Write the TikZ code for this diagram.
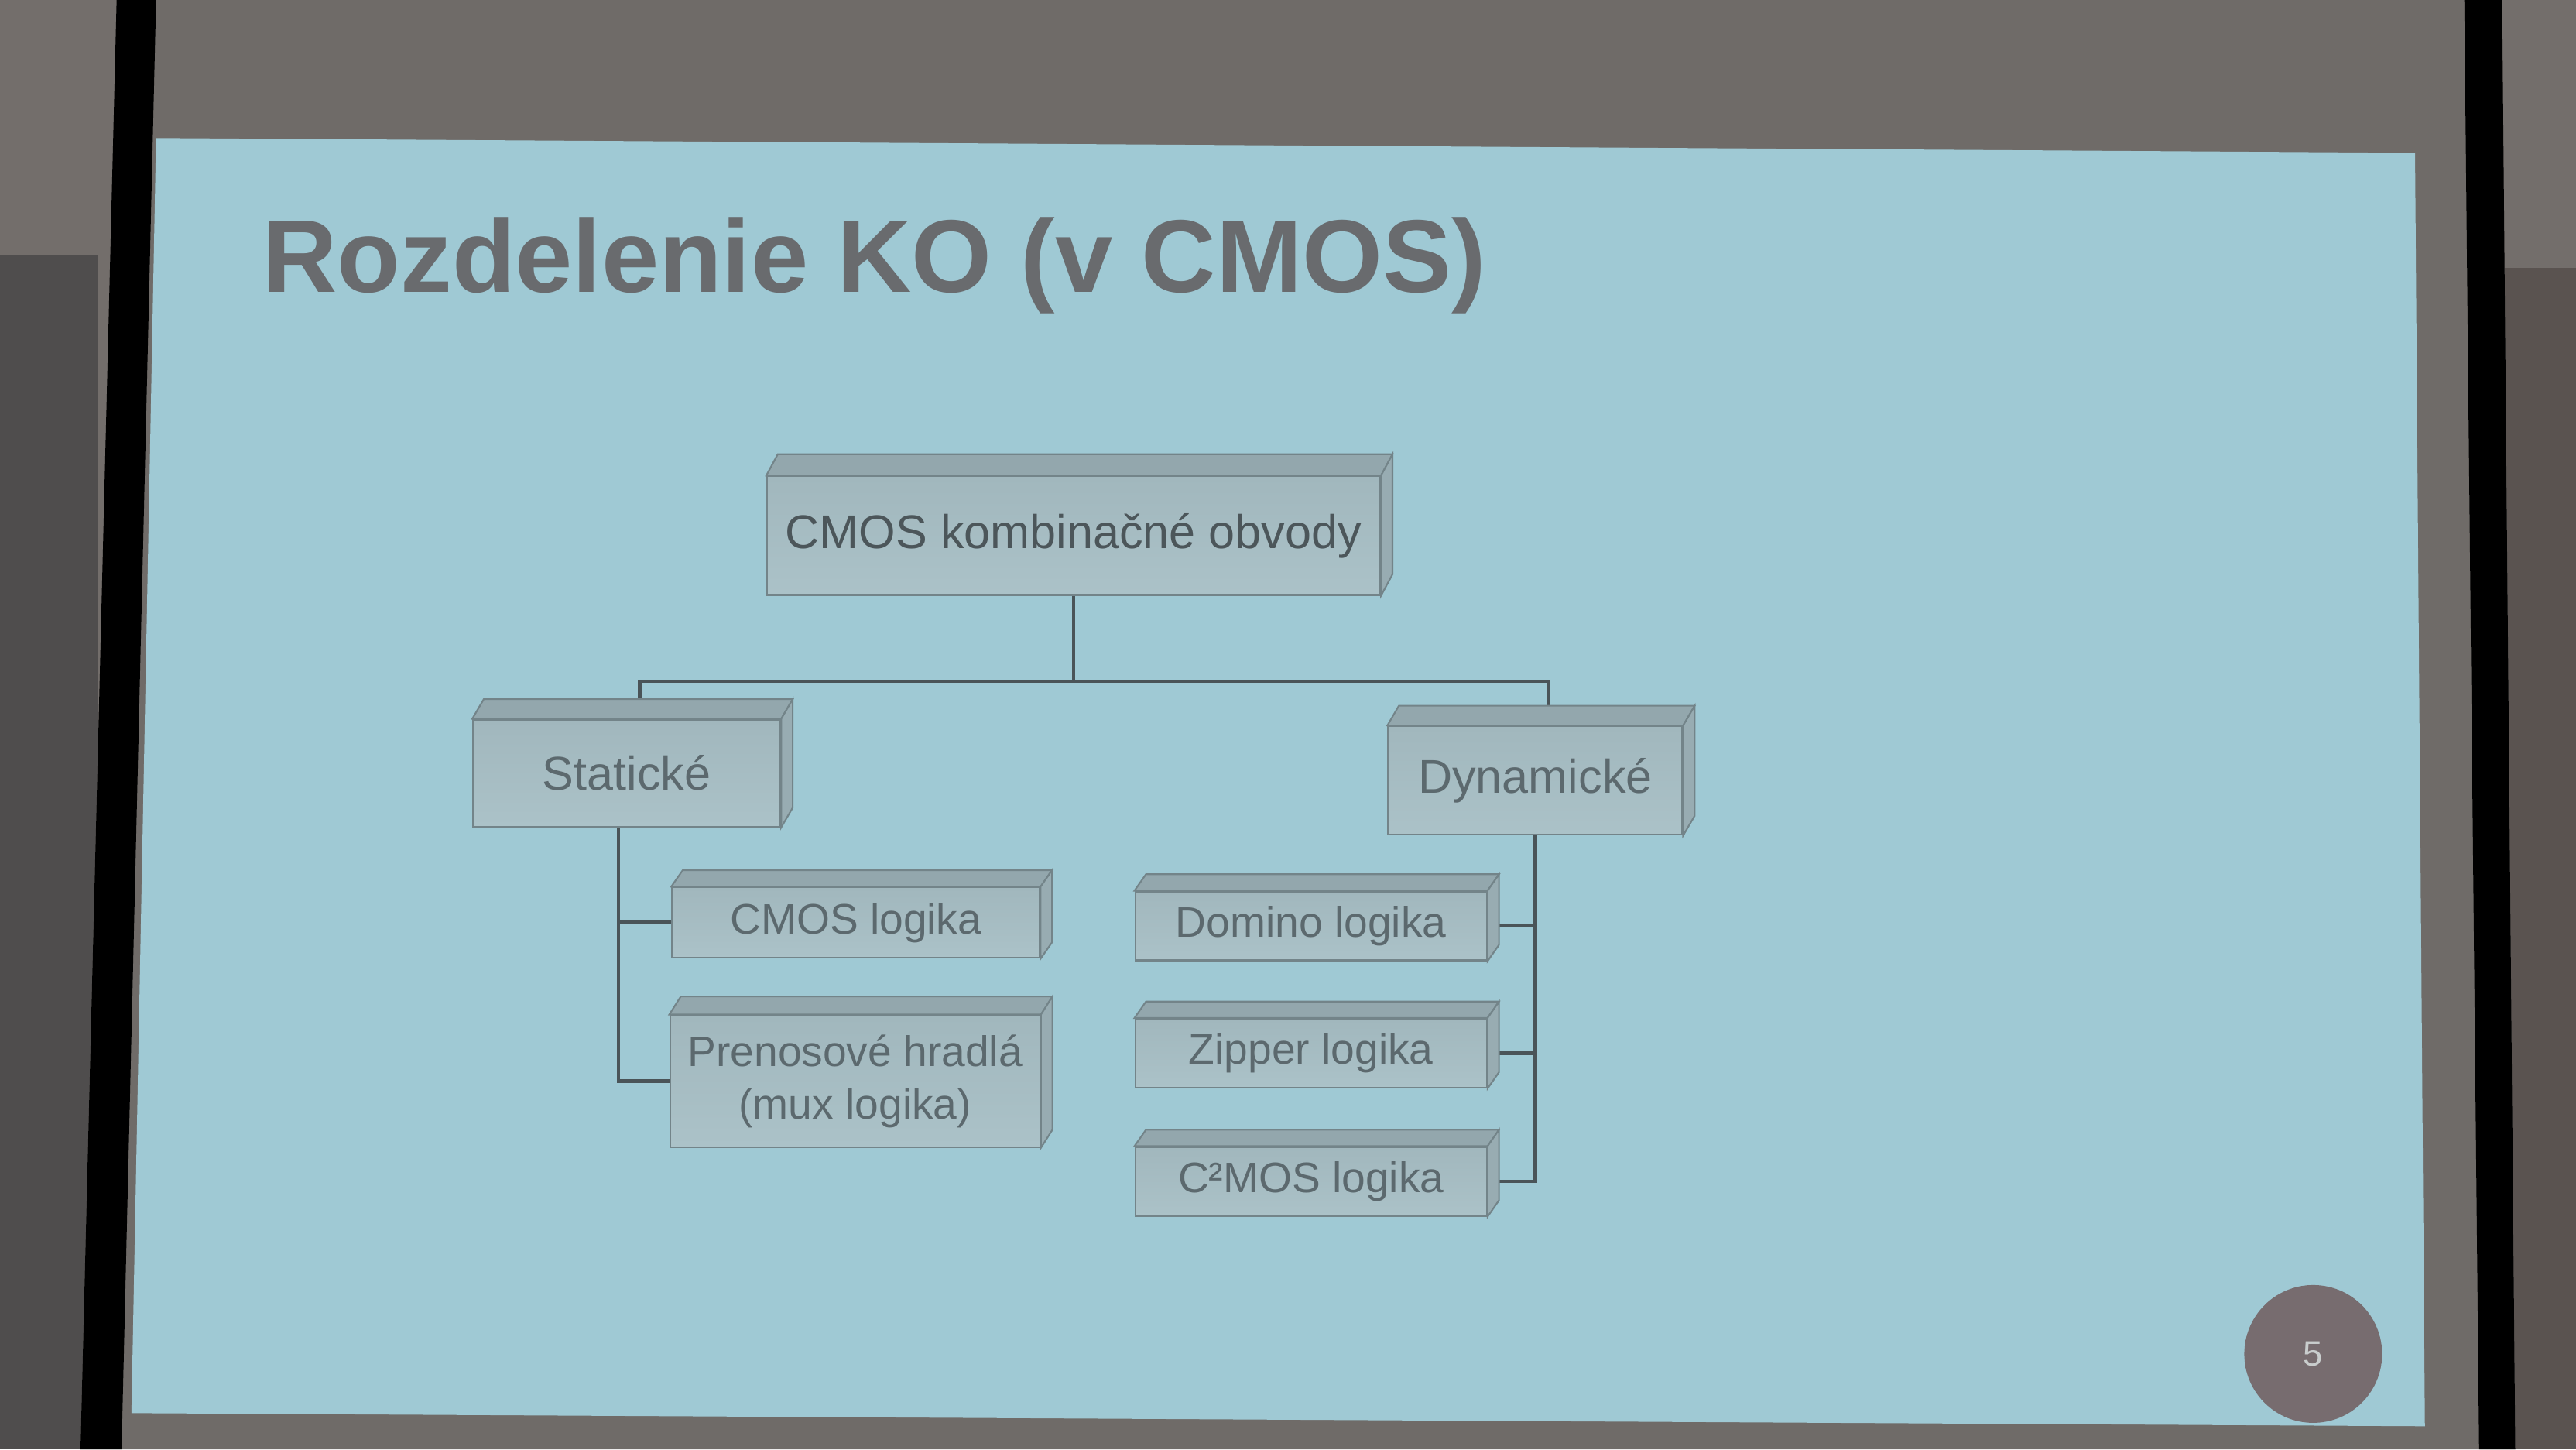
\documentclass[tikz,border=0pt]{standalone}
\usepackage{fontspec}
\setmainfont{Liberation Sans}
\usetikzlibrary{backgrounds}

\definecolor{stena}{HTML}{736E6B}
\definecolor{stenatmava}{HTML}{4F4D4D}
\definecolor{stenapravo}{HTML}{5A5350}
\definecolor{platno}{HTML}{6F6B68}
\definecolor{snimka}{HTML}{9FC9D4}
\definecolor{nadpis}{HTML}{696B6E}
\definecolor{celoh}{HTML}{A1B7BD}
\definecolor{celod}{HTML}{ABC2C8}
\definecolor{vrch}{HTML}{93A7AD}
\definecolor{bok}{HTML}{98ACB2}
\definecolor{okraj}{HTML}{738489}
\definecolor{pismo}{HTML}{5C696E}
\definecolor{pismotmave}{HTML}{4C565A}
\definecolor{ciara}{HTML}{4A5458}
\definecolor{kruh}{HTML}{776C6F}
\definecolor{cislotext}{HTML}{C9CDCD}

% top and right face of a box, #1 = node, (#2,#3) = depth
\newcommand\kvader[3]{%
  \filldraw[hornastena] (#1.north west) -- ([shift={(#2,#3)}]#1.north west)
    -- ([shift={(#2,#3)}]#1.north east) -- (#1.north east) -- cycle;
  \filldraw[bocnastena] (#1.north east) -- ([shift={(#2,#3)}]#1.north east)
    -- ([shift={(#2,#3)}]#1.south east) -- (#1.south east) -- cycle;
}

\begin{document}
\begin{tikzpicture}[x=0.21224mm, y=-0.21224mm,
  blok/.style={draw=okraj, line width=0.6pt, top color=celoh, bottom color=celod,
    text=pismo, align=center, inner sep=0pt, font=\fontsize{17.4}{21}\selectfont},
  maly/.style={blok, font=\fontsize{15.7}{19.3}\selectfont},
  hornastena/.style={fill=vrch, draw=okraj, line width=0.6pt},
  bocnastena/.style={fill=bok, draw=okraj, line width=0.6pt},
  spoj/.style={draw=ciara, line width=1.3pt}]
\useasboundingbox (0,0) rectangle (1568,882);

% wall, screen and frame
\begin{scope}[on background layer]
\fill[stena] (0,0) rectangle (1568,882);
\fill[stenatmava] (0,155) rectangle (60,882);
\fill[stenapravo] (1515,163) rectangle (1568,882);
\fill[platno] (71,0) -- (1523,0) -- (1531,882) -- (49,882) -- cycle;
\fill[black] (71,0) -- (95,0) -- (74,882) -- (49,882) -- cycle;
\fill[black] (1500,0) -- (1523,0) -- (1531,882) -- (1509,882) -- cycle;
\fill[snimka] (95,84) -- (1470,93) -- (1476,868) -- (80,860) -- cycle;
\end{scope}

% title
\node[anchor=base west, text=nadpis, font=\bfseries\fontsize{38}{44}\selectfont]
  (nadpis) at (154,178) {Rozdelenie KO (v CMOS)};

% boxes
\node[blok, minimum width=79.2mm, minimum height=15.3mm, text=pismotmave] (koren) at (653.5,326) {CMOS kombinačné obvody};
\kvader{koren}{7}{-13}
\node[blok, minimum width=39.7mm, minimum height=13.8mm] (staticke) at (381.5,470.5) {Statické};
\kvader{staticke}{7}{-12}
\node[blok, minimum width=38mm, minimum height=14mm] (dynamicke) at (934.5,475) {Dynamické};
\kvader{dynamicke}{7}{-12}
\node[maly, minimum width=47.5mm, minimum height=9.1mm] (cmos) at (521,561.5) {CMOS logika};
\kvader{cmos}{7}{-10}
\node[maly, minimum width=47.8mm, minimum height=17mm] (prenos) at (520.5,658) {Prenosové hradlá\\(mux logika)};
\kvader{prenos}{7}{-11}
\node[maly, minimum width=45.4mm, minimum height=8.9mm] (domino) at (798,563.5) {Domino logika};
\kvader{domino}{7}{-10}
\node[maly, minimum width=45.4mm, minimum height=8.9mm] (zipper) at (798,641) {Zipper logika};
\kvader{zipper}{7}{-10}
\node[maly, minimum width=45.4mm, minimum height=8.9mm] (c2mos) at (798,719) {C²MOS logika};
\kvader{c2mos}{7}{-10}

% connectors
\begin{scope}[on background layer]
\draw[spoj] (koren.south) -- ++(0,52) coordinate (rozc);
\draw[spoj] ([shift={(8,-12)}]staticke.north) |- (rozc) -| ([shift={(8,-12)}]dynamicke.north);
\draw[spoj] ([xshift=-3]staticke.south) |- (cmos.west);
\draw[spoj] ([xshift=-3]staticke.south) |- (prenos.west);
\draw[spoj] (dynamicke.south) |- (domino.east);
\draw[spoj] (dynamicke.south) |- (zipper.east);
\draw[spoj] (dynamicke.south) |- (c2mos.east);
\end{scope}

% page number
\node[circle, fill=kruh, minimum size=17.8mm, text=cislotext, font=\fontsize{13}{15}\selectfont]
  (strana) at (1408,824) {5};
\end{tikzpicture}
\end{document}
